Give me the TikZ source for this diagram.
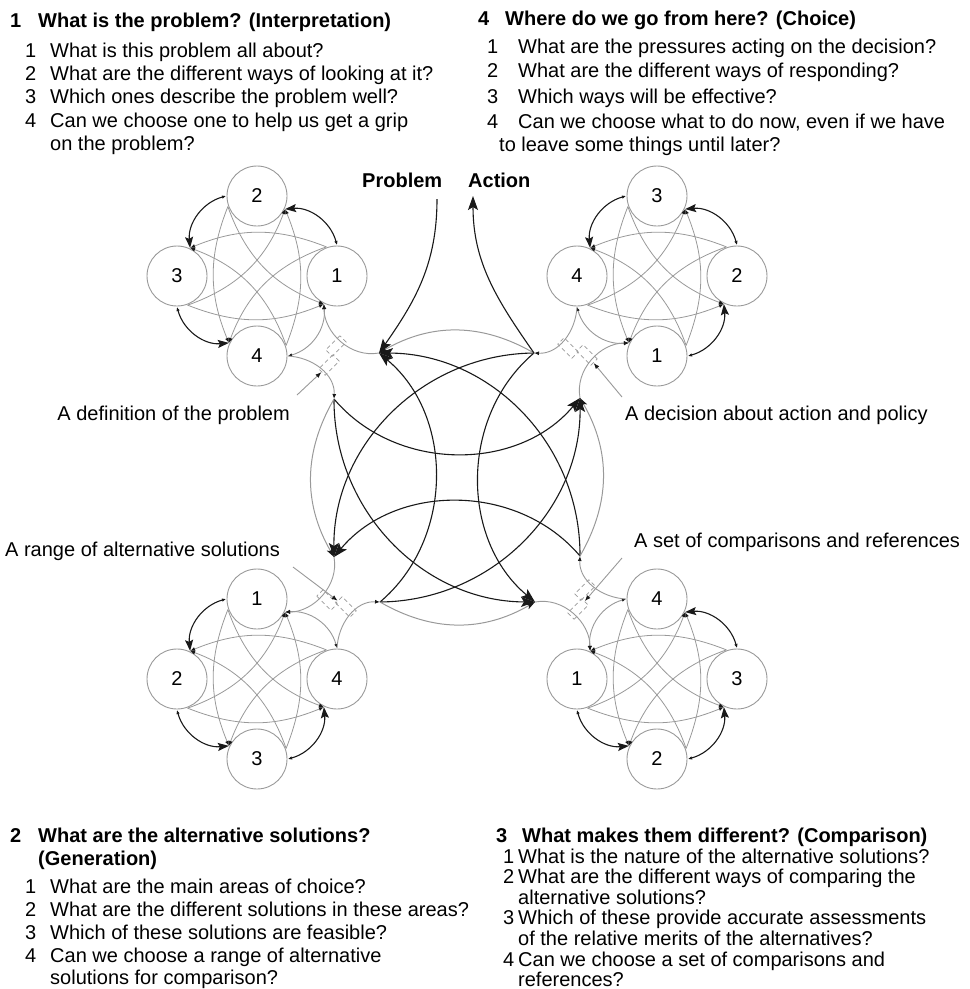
\documentclass[tikz,border=0pt]{standalone}
\usepackage{fontspec}
\setmainfont{Liberation Sans}
\usetikzlibrary{arrows.meta}
\definecolor{soft}{gray}{0.6}
\definecolor{ink}{gray}{0.1}
\tikzset{
  stage/.style={circle,draw=soft,line width=0.9pt,minimum size=60pt,inner sep=0pt,font=\fontsize{20}{20}\selectfont},
  cross/.style={draw=soft,line width=0.8pt,-{Latex[length=5pt,width=4pt,color=ink]}},
  loopstep/.style={draw=ink,line width=1.1pt,{Latex[length=4pt,width=3.5pt]}-{Stealth[length=11pt,width=8pt,inset=2pt]}},
  loopback/.style={draw=soft,line width=0.9pt,{Latex[length=4pt,width=3.5pt,color=ink]}-{Latex[length=5pt,width=4pt,color=ink]}},
  hubline/.style={draw=soft,line width=0.9pt,-{Latex[length=5pt,width=4pt,color=ink]}},
  gate/.style={draw=soft,line width=0.7pt,dash pattern=on 4pt off 3pt,minimum width=20pt,minimum height=9pt,inner sep=0pt},
  route/.style={draw=ink,line width=1.1pt,-{Stealth[length=14pt,width=10pt,inset=3pt]}},
  faint/.style={draw=soft,line width=1pt,-{Stealth[length=9pt,width=6pt,inset=2pt,color=ink]}},
  pointer/.style={draw=soft,line width=0.9pt,-{Latex[length=6pt,width=4.5pt,color=ink]}},
  txt/.style={anchor=base west,inner sep=0pt,font=\fontsize{20}{23}\selectfont},
  hd/.style={anchor=base west,inner sep=0pt,font=\fontsize{20}{23}\selectfont\bfseries},
}
% one stage: four question circles, their links, and the entry/exit hub
% #1 name prefix, #2 centre, #3 rotation of the whole loop
\newcommand\stageloop[3]{%
  \begin{scope}[shift={#2},rotate=#3]
    \foreach \k/\a in {1/0,2/90,3/180,4/270}{
      \pgfmathsetmacro\cx{80*cos(\a)}
      \pgfmathsetmacro\cy{80*sin(\a)}
      \node[stage] (#1\k) at (\cx,\cy) {\k};
      \pgfmathsetmacro\px{\cx+31*cos(\a+110)}
      \pgfmathsetmacro\py{\cy+31*sin(\a+110)}
      \coordinate (#1o\k) at (\px,\py);
      \pgfmathsetmacro\px{\cx+31*cos(\a-115)}
      \pgfmathsetmacro\py{\cy+31*sin(\a-115)}
      \coordinate (#1i\k) at (\px,\py);
      \pgfmathsetmacro\px{\cx+31*cos(\a+90)}
      \pgfmathsetmacro\py{\cy+31*sin(\a+90)}
      \coordinate (#1s\k) at (\px,\py);
    }
    \foreach \p/\q in {1/3,3/1,2/4,4/2}
      \draw[cross] (#1o\p) to[bend right=22] (#1i\q);
    \foreach \p/\q in {1/4,2/1,3/2,4/3}
      \draw[cross] (#1o\p) to[bend right=25] (#1i\q);
    \foreach \p/\q in {1/2,2/3,3/4}
      \draw[loopstep] (#1s\p) to[bend right=40] (#1i\q);
    \draw[loopback] (#1s4) to[bend right=40] (#1i1);
    \coordinate (#1in) at (122,-77);
    \coordinate (#1out) at (77,-123);
    \draw[hubline] (#1in) to[out=52,in=132,relative] (#1i1);
    \draw[hubline] (#1s4) to[out=40,in=130,relative] (#1out);
    \pgfmathsetmacro\ga{45+#3}
    \node[gate,rotate=\ga] (#1ga) at (79,-70) {};
    \node[gate,rotate=\ga] (#1gb) at (72,-89) {};
  \end{scope}}
\begin{document}
\begin{tikzpicture}[x=1pt,y=1pt]
\useasboundingbox (0,0) rectangle (970,-989);

% the four stages
\stageloop{A}{(257,-276)}{0}
\stageloop{B}{(257,-679)}{90}
\stageloop{C}{(657,-679)}{180}
\stageloop{D}{(657,-276)}{-90}

% routes between stages
\draw[route] (Aout) to[bend right=50] (Din);
\draw[route] (Dout) to[bend right=50] (Cin);
\draw[route] (Cout) to[bend right=50] (Bin);
\draw[route] (Bout) to[bend right=50] (Ain);
\draw[route] (Aout) to[bend right=45] (Cin);
\draw[route] (Dout) to[bend right=45] (Bin);
\draw[route] (Cout) to[bend right=45] (Ain);
\draw[route] (Bout) to[bend right=45] (Din);
\draw[faint] (Aout) to[bend right=30] (Bin);
\draw[faint] (Bout) to[bend right=30] (Cin);
\draw[faint] (Cout) to[bend right=30] (Din);
\draw[faint] (Dout) to[bend right=30] (Ain);

% problem in, action out
\node[hd] (prob) at (362,-187) {Problem};
\node[hd] (act) at (468,-187) {Action};
\coordinate (pstart) at (437,-199);
\coordinate (atip) at (473,-196);
\draw[route] (pstart) to[out=-90,in=55] (Ain);
\draw[route] (Dout) to[out=125,in=-90] (atip);

% stage results
\node[txt,anchor=base east] (resA) at (290,-420) {A definition of the problem};
\node[txt] (resD) at (625,-420) {A decision about action and policy};
\node[txt] (resB) at (5,-556) {A range of alternative solutions};
\node[txt] (resC) at (634,-547) {A set of comparisons and references};
\coordinate (pa) at (297,-395);
\coordinate (pd) at (622,-397);
\coordinate (pb) at (293,-567);
\coordinate (pc) at (622,-558);
\draw[pointer] (pa) -- (Agb);
\draw[pointer] (pd) -- (Dga);
\draw[pointer] (pb) -- (Bgb);
\draw[pointer] (pc) -- (Cga);

% stage 1 questions
\node[hd] at (10,-27) {1};
\node[hd] at (38,-27) {What is the problem? (Interpretation)};
\node[txt] at (25,-57) {1};  \node[txt] at (50,-57) {What is this problem all about?};
\node[txt] at (25,-80) {2};  \node[txt] at (50,-80) {What are the different ways of looking at it?};
\node[txt] at (25,-103) {3}; \node[txt] at (50,-103) {Which ones describe the problem well?};
\node[txt] at (25,-127) {4}; \node[txt] at (50,-127) {Can we choose one to help us get a grip};
\node[txt] at (50,-150) {on the problem?};

% stage 4 questions
\node[hd] at (478,-25) {4};
\node[hd] at (505,-25) {Where do we go from here? (Choice)};
\node[txt] at (487,-53) {1};  \node[txt] at (518,-53) {What are the pressures acting on the decision?};
\node[txt] at (487,-77) {2};  \node[txt] at (518,-77) {What are the different ways of responding?};
\node[txt] at (487,-103) {3}; \node[txt] at (518,-103) {Which ways will be effective?};
\node[txt] at (487,-128) {4}; \node[txt] at (518,-128) {Can we choose what to do now, even if we have};
\node[txt] at (499,-151) {to leave some things until later?};

% stage 2 questions
\node[hd] at (10,-842) {2};
\node[hd] at (38,-842) {What are the alternative solutions?};
\node[hd] at (38,-865) {(Generation)};
\node[txt] at (25,-893) {1}; \node[txt] at (50,-893) {What are the main areas of choice?};
\node[txt] at (25,-916) {2}; \node[txt] at (50,-916) {What are the different solutions in these areas?};
\node[txt] at (25,-939) {3}; \node[txt] at (50,-939) {Which of these solutions are feasible?};
\node[txt] at (25,-962) {4}; \node[txt] at (50,-962) {Can we choose a range of alternative};
\node[txt] at (50,-984) {solutions for comparison?};

% stage 3 questions
\node[hd] at (496,-842) {3};
\node[hd] at (522,-842) {What makes them different? (Comparison)};
\node[txt] at (503,-863) {1}; \node[txt] at (518,-863) {What is the nature of the alternative solutions?};
\node[txt] at (503,-883) {2}; \node[txt] at (518,-883) {What are the different ways of comparing the};
\node[txt] at (518,-904) {alternative solutions?};
\node[txt] at (503,-924) {3}; \node[txt] at (518,-924) {Which of these provide accurate assessments};
\node[txt] at (518,-945) {of the relative merits of the alternatives?};
\node[txt] at (503,-966) {4}; \node[txt] at (518,-966) {Can we choose a set of comparisons and};
\node[txt] at (518,-986) {references?};
\end{tikzpicture}
\end{document}
